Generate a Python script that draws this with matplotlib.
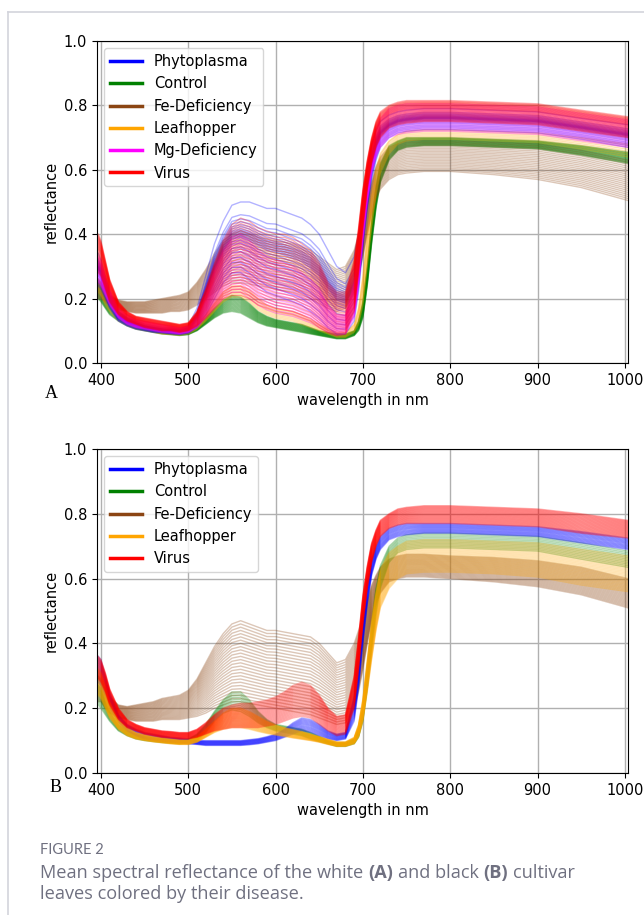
import numpy as np
import matplotlib
matplotlib.use('Agg')
import matplotlib.pyplot as plt
from matplotlib.lines import Line2D

# wavelength grid (nm)
wl = [397, 400, 405, 410, 420, 430, 440, 450, 460, 470,
      480, 490, 500, 510, 520, 530, 540, 550, 560, 570,
      580, 590, 600, 610, 620, 630, 640, 650, 660, 670,
      680, 690, 695, 700, 705, 710, 715, 720, 730, 740,
      750, 770, 800, 850, 900, 950, 1003]

names_a = ['Phytoplasma', 'Control', 'Fe-Deficiency', 'Leafhopper', 'Mg-Deficiency', 'Virus']
names_b = ['Phytoplasma', 'Control', 'Fe-Deficiency', 'Leafhopper', 'Virus']
colors = {'Phytoplasma': 'blue', 'Control': 'green', 'Fe-Deficiency': 'saddlebrown',
          'Leafhopper': 'orange', 'Mg-Deficiency': 'magenta', 'Virus': 'red'}

# ---- white cultivar (A): low / high edge of each class band ----
a_phyto_lo = [.24, .23, .20, .17, .13, .115, .105, .10, .095, .093,
              .09, .088, .092, .11, .15, .20, .25, .28, .28, .26,
              .24, .22, .21, .20, .19, .18, .16, .14, .11, .09,
              .09, .13, .22, .36, .48, .57, .63, .67, .70, .715,
              .72, .725, .725, .72, .715, .695, .67]
a_phyto_hi = [.34, .32, .27, .22, .16, .14, .13, .12, .115, .11,
              .108, .105, .115, .17, .27, .37, .44, .49, .50, .50,
              .49, .48, .48, .47, .46, .45, .43, .40, .35, .30,
              .28, .33, .40, .50, .60, .67, .72, .75, .77, .78,
              .785, .79, .79, .785, .78, .76, .74]
a_ctrl_lo = [.20, .19, .17, .15, .13, .115, .105, .10, .095, .09,
             .088, .085, .088, .10, .12, .14, .155, .16, .155, .14,
             .125, .115, .11, .105, .10, .095, .09, .085, .08, .075,
             .075, .085, .10, .14, .24, .37, .48, .56, .63, .66,
             .67, .675, .675, .67, .665, .645, .62]
a_ctrl_hi = [.25, .24, .21, .19, .16, .14, .125, .115, .11, .105,
             .10, .10, .10, .115, .14, .17, .195, .21, .205, .185,
             .16, .145, .135, .13, .125, .12, .11, .10, .095, .09,
             .09, .10, .13, .19, .30, .44, .55, .62, .675, .69,
             .70, .70, .70, .695, .69, .675, .655]
a_fe_lo = [.20, .20, .19, .18, .165, .16, .155, .155, .155, .155,
           .16, .16, .165, .18, .20, .22, .24, .25, .25, .245,
           .24, .235, .23, .225, .22, .21, .20, .185, .17, .16,
           .17, .22, .27, .33, .40, .46, .51, .54, .57, .585,
           .59, .595, .595, .585, .57, .545, .505]
a_fe_hi = [.26, .25, .23, .21, .195, .19, .19, .19, .195, .20,
           .205, .21, .22, .25, .29, .34, .38, .40, .41, .40,
           .39, .385, .38, .375, .37, .36, .35, .33, .31, .29,
           .30, .35, .40, .45, .50, .56, .61, .64, .67, .68,
           .69, .69, .69, .685, .68, .66, .63]
a_leaf_lo = [.22, .21, .18, .16, .13, .115, .105, .10, .095, .09,
             .088, .086, .09, .105, .13, .16, .19, .205, .205, .19,
             .165, .15, .14, .135, .13, .12, .11, .10, .09, .08,
             .08, .095, .12, .18, .30, .42, .52, .59, .65, .68,
             .69, .695, .695, .69, .685, .665, .64]
a_leaf_hi = [.26, .25, .22, .19, .15, .13, .12, .11, .105, .10,
             .098, .095, .10, .12, .15, .185, .22, .24, .24, .225,
             .20, .18, .17, .165, .16, .15, .135, .12, .105, .095,
             .095, .12, .17, .27, .40, .52, .60, .65, .69, .71,
             .72, .725, .725, .72, .715, .70, .68]
a_mg_lo = [.25, .24, .21, .18, .14, .12, .11, .105, .10, .095,
           .093, .09, .095, .11, .14, .17, .20, .22, .22, .20,
           .18, .165, .155, .15, .145, .135, .125, .11, .095, .085,
           .09, .14, .24, .38, .50, .59, .64, .67, .70, .71,
           .715, .72, .72, .715, .71, .69, .67]
a_mg_hi = [.33, .32, .27, .23, .17, .15, .135, .13, .125, .12,
           .115, .11, .115, .15, .21, .29, .35, .39, .40, .38,
           .35, .33, .32, .31, .30, .28, .26, .23, .18, .15,
           .15, .25, .37, .50, .60, .68, .73, .76, .79, .80,
           .805, .805, .805, .80, .795, .775, .755]
a_virus_lo = [.28, .27, .23, .19, .15, .13, .12, .11, .105, .10,
              .10, .095, .10, .115, .14, .17, .20, .21, .21, .20,
              .18, .17, .16, .155, .15, .14, .13, .11, .095, .085,
              .09, .16, .28, .42, .54, .62, .67, .70, .73, .74,
              .745, .75, .75, .745, .74, .72, .70]
a_virus_hi = [.40, .38, .32, .26, .19, .16, .145, .14, .135, .13,
              .125, .12, .125, .16, .23, .31, .38, .43, .45, .44,
              .42, .41, .40, .40, .39, .37, .35, .31, .25, .22,
              .22, .32, .42, .54, .63, .70, .75, .78, .80, .81,
              .815, .815, .815, .81, .805, .785, .765]

# ---- black cultivar (B) ----
b_phyto_lo = [.28, .27, .24, .20, .155, .13, .115, .105, .10, .097,
              .095, .093, .09, .088, .085, .085, .085, .085, .085, .087,
              .09, .095, .10, .11, .12, .13, .125, .115, .105, .10,
              .105, .16, .26, .40, .52, .61, .66, .69, .72, .73,
              .735, .74, .74, .735, .73, .71, .69]
b_phyto_hi = [.36, .35, .30, .25, .18, .15, .135, .125, .12, .115,
              .11, .108, .105, .10, .10, .10, .10, .10, .10, .103,
              .106, .112, .12, .135, .155, .17, .165, .15, .13, .12,
              .125, .24, .36, .49, .59, .66, .70, .73, .755, .765,
              .77, .77, .77, .765, .76, .745, .725]
b_ctrl_lo = [.21, .20, .18, .16, .13, .115, .105, .10, .097, .094,
             .092, .09, .092, .10, .125, .16, .185, .195, .19, .175,
             .155, .14, .13, .125, .12, .115, .105, .097, .09, .082,
             .082, .09, .11, .16, .26, .38, .49, .57, .65, .68,
             .69, .695, .695, .69, .685, .66, .635]
b_ctrl_hi = [.27, .26, .22, .19, .15, .13, .12, .112, .108, .105,
             .102, .10, .105, .12, .15, .19, .225, .25, .25, .225,
             .19, .165, .15, .145, .14, .135, .125, .113, .10, .094,
             .094, .105, .14, .21, .33, .46, .57, .64, .70, .725,
             .735, .74, .74, .735, .73, .71, .685]
b_fe_lo = [.22, .22, .20, .185, .17, .165, .16, .16, .16, .165,
           .165, .165, .17, .175, .185, .20, .21, .22, .22, .215,
           .21, .205, .20, .195, .19, .185, .18, .17, .16, .15,
           .155, .20, .25, .32, .40, .47, .52, .555, .59, .60,
           .605, .605, .60, .59, .575, .55, .51]
b_fe_hi = [.30, .29, .26, .235, .21, .205, .21, .215, .22, .23,
           .235, .24, .255, .29, .34, .39, .43, .46, .47, .46,
           .45, .44, .44, .435, .43, .425, .42, .40, .37, .34,
           .35, .40, .44, .48, .53, .58, .61, .635, .66, .67,
           .675, .675, .67, .665, .655, .635, .60]
b_leaf_lo = [.24, .23, .20, .17, .135, .115, .105, .10, .096, .093,
             .09, .088, .088, .095, .11, .125, .135, .14, .14, .135,
             .128, .122, .117, .113, .108, .104, .10, .095, .088, .082,
             .082, .09, .11, .16, .25, .35, .44, .51, .57, .60,
             .615, .62, .62, .615, .605, .58, .56]
b_leaf_hi = [.32, .31, .27, .22, .165, .14, .125, .118, .112, .108,
             .105, .102, .102, .112, .135, .16, .185, .20, .20, .19,
             .175, .16, .148, .14, .134, .128, .12, .112, .104, .096,
             .096, .11, .15, .23, .35, .47, .56, .63, .68, .70,
             .715, .72, .72, .715, .71, .69, .67]
b_virus_lo = [.29, .28, .25, .21, .165, .14, .13, .12, .115, .11,
              .108, .105, .105, .11, .12, .13, .135, .14, .14, .14,
              .14, .145, .15, .16, .17, .175, .17, .15, .13, .115,
              .12, .20, .32, .46, .57, .65, .70, .73, .755, .765,
              .77, .77, .77, .765, .76, .74, .725]
b_virus_hi = [.36, .35, .31, .26, .20, .165, .15, .14, .135, .13,
              .128, .125, .125, .135, .155, .18, .20, .21, .215, .215,
              .22, .225, .235, .25, .27, .28, .27, .24, .20, .175,
              .18, .30, .42, .55, .64, .71, .75, .78, .80, .815,
              .82, .825, .825, .82, .815, .80, .78]

# position of each leaf inside its class band (0 = low edge, 1 = high edge)
a_phyto_pos = [0.0, 0.08, 0.15, 0.22, 0.3, 0.36, 0.42, 0.46, 0.5, 0.52, 0.54, 0.56, 0.58,
               0.6, 0.62, 0.65, 0.68, 0.72, 0.76, 0.82, 1.0]
a_ctrl_pos = [0.0, 0.05, 0.1, 0.15, 0.2, 0.25, 0.3, 0.35, 0.4, 0.45, 0.5, 0.55, 0.6, 0.65,
              0.7, 0.75, 0.8, 0.85, 0.9, 0.95, 1.0]
a_fe_pos = [0.0, 0.05, 0.1, 0.15, 0.2, 0.25, 0.3, 0.35, 0.4, 0.45, 0.5, 0.55, 0.6, 0.65,
            0.7, 0.75, 0.8, 0.85, 0.9, 0.95, 1.0]
a_leaf_pos = [0.0, 0.15, 0.3, 0.45, 0.6, 0.75, 0.9, 1.0]
a_mg_pos = [0.0, 0.05, 0.1, 0.15, 0.2, 0.25, 0.3, 0.35, 0.4, 0.45, 0.5, 0.55, 0.6, 0.65,
            0.7, 0.75, 0.8, 0.85, 0.9, 0.95, 1.0]
a_virus_pos = [0.0, 0.04, 0.08, 0.12, 0.16, 0.2, 0.24, 0.28, 0.32, 0.36, 0.4, 0.44, 0.48,
               0.52, 0.56, 0.6, 0.63, 0.66, 0.69, 0.72, 0.75, 0.78, 0.81, 0.84, 0.87, 0.9,
               0.93, 0.96, 1.0]
b_phyto_pos = [0.0, 0.07, 0.14, 0.21, 0.28, 0.35, 0.42, 0.5, 0.57, 0.64, 0.71, 0.78, 0.85,
               0.92, 1.0]
b_ctrl_pos = [0.0, 0.1, 0.2, 0.3, 0.4, 0.5, 0.6, 0.7, 0.8, 0.9, 1.0]
b_fe_pos = [0.0, 0.04, 0.08, 0.12, 0.16, 0.2, 0.24, 0.28, 0.32, 0.36, 0.4, 0.44, 0.48,
            0.52, 0.56, 0.6, 0.64, 0.68, 0.72, 0.76, 0.8, 0.84, 0.88, 0.92, 0.96, 1.0]
b_leaf_pos = [0.0, 0.04, 0.08, 0.12, 0.16, 0.2, 0.24, 0.28, 0.32, 0.36, 0.4, 0.44, 0.48,
              0.52, 0.56, 0.6, 0.64, 0.68, 0.72, 0.76, 0.8, 0.84, 0.88, 0.92, 0.96, 1.0]
b_virus_pos = [0.0, 0.04, 0.08, 0.12, 0.16, 0.2, 0.24, 0.28, 0.32, 0.36, 0.4, 0.44, 0.48,
               0.52, 0.56, 0.6, 0.64, 0.68, 0.72, 0.76, 0.8, 0.84, 0.88, 0.92, 0.96, 1.0]

bands_a = {'Phytoplasma': (a_phyto_lo, a_phyto_hi, a_phyto_pos),
           'Control': (a_ctrl_lo, a_ctrl_hi, a_ctrl_pos),
           'Fe-Deficiency': (a_fe_lo, a_fe_hi, a_fe_pos),
           'Leafhopper': (a_leaf_lo, a_leaf_hi, a_leaf_pos),
           'Mg-Deficiency': (a_mg_lo, a_mg_hi, a_mg_pos),
           'Virus': (a_virus_lo, a_virus_hi, a_virus_pos)}
bands_b = {'Phytoplasma': (b_phyto_lo, b_phyto_hi, b_phyto_pos),
           'Control': (b_ctrl_lo, b_ctrl_hi, b_ctrl_pos),
           'Fe-Deficiency': (b_fe_lo, b_fe_hi, b_fe_pos),
           'Leafhopper': (b_leaf_lo, b_leaf_hi, b_leaf_pos),
           'Virus': (b_virus_lo, b_virus_hi, b_virus_pos)}


def paint_panel(ax, bands, order, names):
    x = np.array(wl)
    # one class after the other, later classes end up on top
    for k in order:
        lo, hi, pos = bands[k]
        lo = np.array(lo)
        hi = np.array(hi)
        for f in pos:
            ax.plot(x, lo + f * (hi - lo), color=colors[k], alpha=0.3, lw=1.0)
    ax.set_xlim(395.5, 1003.5)
    ax.set_ylim(0, 1.0)
    ax.grid(True, color='#b0b0b0', lw=1.0)
    ax.set_axisbelow(True)
    ax.tick_params(labelsize=10.5)
    ax.set_xlabel('wavelength in nm', fontsize=10.5)
    ax.set_ylabel('reflectance', fontsize=10.5)
    handles = [Line2D([], [], color=colors[k], lw=2.5) for k in names]
    ax.legend(handles, names, loc='upper left', fontsize=10.5, handlelength=2.2, framealpha=0.8)


fig = plt.figure(figsize=(6.44, 9.15), dpi=100)

ax1 = fig.add_axes([0.1506, 0.6033, 0.8245, 0.3519])
paint_panel(ax1, bands_a, ['Control', 'Fe-Deficiency', 'Leafhopper', 'Phytoplasma', 'Mg-Deficiency', 'Virus'], names_a)
ax2 = fig.add_axes([0.1506, 0.1552, 0.8245, 0.3541])
paint_panel(ax2, bands_b, ['Fe-Deficiency', 'Control', 'Phytoplasma', 'Leafhopper', 'Virus'], names_b)

fig.text(45 / 644, 1 - 393 / 915, 'A', family='Liberation Serif', fontsize=13, ha='left', va='center')
fig.text(50 / 644, 1 - 787 / 915, 'B', family='Liberation Serif', fontsize=13, ha='left', va='center')

# page frame
grey = '#d3d4dc'
fig.add_artist(Line2D([8 / 644, 1.0], [1 - 12 / 915, 1 - 12 / 915], color=grey, lw=1.2))
fig.add_artist(Line2D([8 / 644, 8 / 644], [0, 1 - 12 / 915], color=grey, lw=1.2))

# caption
capc = '#6f7080'
capfont = 'Open Sans'
capsize = 13.1
fig.text(40 / 644, 1 - 850 / 915, 'FIGURE 2', family='Lato', fontsize=10.5, color=capc, va='center')
r = fig.canvas.get_renderer()


def width_of(s, weight):
    t = fig.text(0, 0, s, family=capfont, fontsize=capsize, weight=weight)
    w = t.get_window_extent(renderer=r).width
    t.remove()
    return w / fig.bbox.width


sp = width_of('x x', 'normal') - width_of('xx', 'normal')
runs = [('Mean spectral reflectance of the white', 'normal'), ('(A)', 'bold'),
        ('and black', 'normal'), ('(B)', 'bold'), ('cultivar', 'normal')]
xx = 40 / 644
for s, wgt in runs:
    fig.text(xx, 1 - 873 / 915, s, family=capfont, fontsize=capsize, weight=wgt, color=capc, va='center')
    xx += width_of(s, wgt) + sp
fig.text(40 / 644, 1 - 894 / 915, 'leaves colored by their disease.', family=capfont, fontsize=capsize,
         color=capc, va='center')

plt.savefig('out.png', dpi=100)
